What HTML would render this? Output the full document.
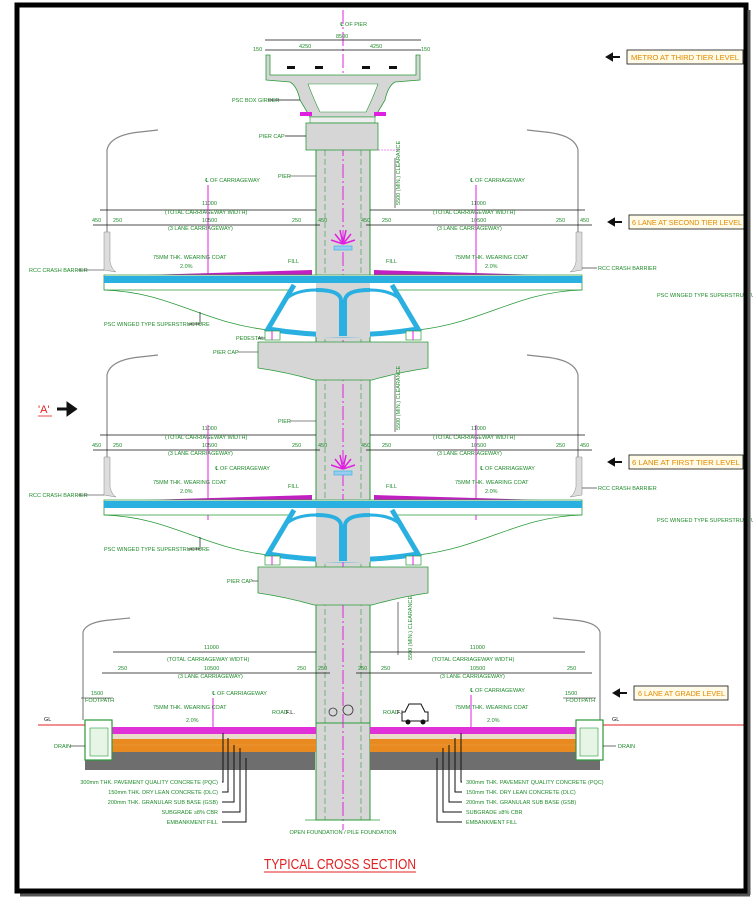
<!DOCTYPE html>
<html><head><meta charset="utf-8"><style>
html,body{margin:0;padding:0;background:#fff;width:753px;height:901px;overflow:hidden}
svg{display:block}
text{font-family:"Liberation Sans",sans-serif;font-size:5.5px;fill:#1f8a2a}
.k{fill:#111}
.o{fill:#e08a00;font-size:7.5px}
</style></head><body>
<svg width="753" height="901" viewBox="0 0 753 901" xmlns="http://www.w3.org/2000/svg">
<rect x="0" y="0" width="753" height="901" fill="#fff"/>
<!-- column -->
<rect x="316" y="148" width="54" height="672" fill="#d6d6d6" stroke="#2a9a3a" stroke-width="1"/>
<line x1="325" y1="150" x2="325" y2="820" stroke="#2a9a3a" stroke-width="0.6" stroke-dasharray="6,3"/>
<line x1="361" y1="150" x2="361" y2="820" stroke="#2a9a3a" stroke-width="0.6" stroke-dasharray="6,3"/>
<!-- centreline -->
<line x1="343" y1="10" x2="343" y2="830" stroke="#e020e0" stroke-width="1" stroke-dasharray="14,3,2,3"/>

<!-- METRO -->
<path d="M266,55 L270,55 L270,75 L416,75 L416,55 L420,55 L420,80 L395,82 Q388,86 385,100 L375,117 L310,117 L300,100 Q297,86 290,82 L266,80 Z" fill="#d6d6d6" stroke="#2a9a3a" stroke-width="0.8"/>
<path d="M308,84 L378,84 Q372,100 366,112 L320,112 Q314,100 308,84 Z" fill="#fff" stroke="#2a9a3a" stroke-width="0.6"/>
<rect x="300" y="112" width="12" height="4" fill="#e020e0"/><rect x="374" y="112" width="12" height="4" fill="#e020e0"/>
<rect x="310" y="117" width="65" height="6" fill="#eee" stroke="#2a9a3a" stroke-width="0.6"/>
<rect x="306" y="123" width="72" height="27" fill="#d6d6d6" stroke="#2a9a3a" stroke-width="0.8"/>
<g fill="#111"><rect x="287" y="66" width="8" height="3"/><rect x="315" y="66" width="8" height="3"/><rect x="362" y="66" width="8" height="3"/><rect x="389" y="66" width="8" height="3"/></g>
<line x1="265" y1="40" x2="421" y2="40" stroke="#111" stroke-width="0.8"/>
<line x1="265" y1="50" x2="421" y2="50" stroke="#111" stroke-width="0.8"/>
<text x="336" y="38">8500</text><text x="299" y="48">4250</text><text x="370" y="48">4250</text>
<text x="253" y="51">150</text><text x="421" y="51">150</text>
<text x="340" y="26">℄ OF PIER</text>
<text x="232" y="102">PSC BOX GIRDER</text><line x1="268" y1="100" x2="300" y2="100" stroke="#111" stroke-width="0.7"/>
<text x="259" y="138">PIER CAP</text><line x1="285" y1="136" x2="306" y2="136" stroke="#111" stroke-width="0.7"/>
<line x1="378" y1="150" x2="400" y2="150" stroke="#e020e0" stroke-width="0.6" stroke-dasharray="2,1"/>

<!-- TIER (second) -->
<g id="t2">
<path d="M107,268 V150 Q110,135 140,132 L158,130" fill="none" stroke="#888" stroke-width="1.2"/>
<path d="M578,268 V150 Q575,135 545,132 L527,130" fill="none" stroke="#888" stroke-width="1.2"/>
<line x1="100" y1="210" x2="316" y2="210" stroke="#111" stroke-width="0.8"/>
<line x1="93" y1="225" x2="320" y2="225" stroke="#111" stroke-width="0.8"/>
<line x1="370" y1="210" x2="585" y2="210" stroke="#111" stroke-width="0.8"/>
<line x1="366" y1="225" x2="592" y2="225" stroke="#111" stroke-width="0.8"/>
<text x="202" y="205">11000</text><text x="165" y="214">(TOTAL CARRIAGEWAY WIDTH)</text>
<text x="202" y="222">10500</text><text x="168" y="230">(3 LANE CARRIAGEWAY)</text>
<text x="471" y="205">11000</text><text x="433" y="214">(TOTAL CARRIAGEWAY WIDTH)</text>
<text x="471" y="222">10500</text><text x="437" y="230">(3 LANE CARRIAGEWAY)</text>
<text x="92" y="222">450</text><text x="113" y="222">250</text><text x="292" y="222">250</text><text x="318" y="222">450</text>
<text x="361" y="222">450</text><text x="382" y="222">250</text><text x="556" y="222">250</text><text x="580" y="222">450</text>
<text x="205" y="182">℄ OF CARRIAGEWAY</text><text x="470" y="182">℄ OF CARRIAGEWAY</text>
<line x1="208" y1="185" x2="208" y2="290" stroke="#e020e0" stroke-width="1"/>
<line x1="476" y1="185" x2="476" y2="290" stroke="#e020e0" stroke-width="1"/>
<text x="278" y="178">PIER</text><line x1="290" y1="176" x2="316" y2="176" stroke="#111" stroke-width="0.6"/>
<text x="153" y="259">75MM THK. WEARING COAT</text><text x="180" y="268">2.0%</text>
<text x="455" y="259">75MM THK. WEARING COAT</text><text x="485" y="268">2.0%</text>
<text x="288" y="263">FILL</text><text x="386" y="263">FILL</text>
<path d="M104,270 V232 H110 V262 Q112,270 116,272 Z" fill="#ddd" stroke="#888" stroke-width="0.5"/>
<path d="M582,270 V232 H576 V262 Q574,270 570,272 Z" fill="#ddd" stroke="#888" stroke-width="0.5"/>
<polygon points="110,276 312,270 312,276" fill="#c020c0"/>
<polygon points="374,270 576,276 374,276" fill="#c020c0"/>
<path d="M104,275 H582 V290 H104 Z" fill="#fff" stroke="#2a9a3a" stroke-width="0.8"/>
<rect x="104" y="276" width="478" height="7" fill="#2ab0e0"/>
<path d="M104,290 C170,292 200,322 268,330" fill="none" stroke="#2a9a3a" stroke-width="0.8"/>
<path d="M582,290 C516,292 486,322 418,330" fill="none" stroke="#2a9a3a" stroke-width="0.8"/>
<path d="M294,283 L268,330 Q343,342 418,330 L392,283 Z" fill="#fff"/>
<path d="M294,285 L268,329 Q343,341 418,329 L392,285" fill="none" stroke="#2ab0e0" stroke-width="5"/>
<rect x="316" y="283" width="54" height="54" fill="#d6d6d6"/>
<path d="M316,290 Q340,290 341,300 V336 M370,290 Q346,290 345,300 V336" fill="none" stroke="#2ab0e0" stroke-width="4"/>
<path d="M316,290 Q295,290 285,300 M370,290 Q391,290 401,300" fill="none" stroke="#2ab0e0" stroke-width="3"/>
<path d="M343,244 l-8,-10 M343,244 l8,-10 M343,244 l-12,-4 M343,244 l12,-4 M343,244 l-3,-14 M343,244 l3,-14" stroke="#e020e0" stroke-width="1.5"/>
<rect x="334" y="246" width="18" height="4" fill="#9ce" stroke="#2ab0e0" stroke-width="0.6"/>
<rect x="265" y="331" width="15" height="9" fill="#fff" stroke="#2a9a3a" stroke-width="0.7"/>
<rect x="406" y="331" width="15" height="9" fill="#fff" stroke="#2a9a3a" stroke-width="0.7"/>
<line x1="272" y1="331" x2="272" y2="340" stroke="#e020e0"/><line x1="413" y1="331" x2="413" y2="340" stroke="#e020e0"/>
<path d="M258,342 H428 V368 Q400,372 372,380 H314 Q286,372 258,368 Z" fill="#d6d6d6" stroke="#2a9a3a" stroke-width="0.8"/>
<text x="29" y="272">RCC CRASH BARRIER</text><line x1="78" y1="270" x2="104" y2="270" stroke="#111" stroke-width="0.6"/>
<text x="598" y="270">RCC CRASH BARRIER</text><line x1="582" y1="268" x2="597" y2="268" stroke="#111" stroke-width="0.6"/>
<text x="104" y="326">PSC WINGED TYPE SUPERSTRUCTURE</text><path d="M188,324 H200 V312" fill="none" stroke="#111" stroke-width="0.7"/>
<text x="657" y="297">PSC WINGED TYPE SUPERSTRUCTURE</text>
<text x="236" y="340">PEDESTAL</text><line x1="258" y1="338" x2="265" y2="338" stroke="#111" stroke-width="0.6"/>
<text x="213" y="354">PIER CAP</text><line x1="238" y1="352" x2="258" y2="352" stroke="#111" stroke-width="0.6"/>
</g>
<text x="400" y="205" transform="rotate(-90 400 205)">5500 (MIN.) CLEARANCE</text>
<line x1="395" y1="158" x2="395" y2="208" stroke="#111" stroke-width="0.6"/>

<!-- first tier = copy shifted -->
<g transform="translate(0,225)">
<path d="M107,268 V150 Q110,135 140,132 L158,130" fill="none" stroke="#888" stroke-width="1.2"/>
<path d="M578,268 V150 Q575,135 545,132 L527,130" fill="none" stroke="#888" stroke-width="1.2"/>
<line x1="100" y1="210" x2="316" y2="210" stroke="#111" stroke-width="0.8"/>
<line x1="93" y1="225" x2="320" y2="225" stroke="#111" stroke-width="0.8"/>
<line x1="370" y1="210" x2="585" y2="210" stroke="#111" stroke-width="0.8"/>
<line x1="366" y1="225" x2="592" y2="225" stroke="#111" stroke-width="0.8"/>
<text x="202" y="205">11000</text><text x="165" y="214">(TOTAL CARRIAGEWAY WIDTH)</text>
<text x="202" y="222">10500</text><text x="168" y="230">(3 LANE CARRIAGEWAY)</text>
<text x="471" y="205">11000</text><text x="433" y="214">(TOTAL CARRIAGEWAY WIDTH)</text>
<text x="471" y="222">10500</text><text x="437" y="230">(3 LANE CARRIAGEWAY)</text>
<text x="92" y="222">450</text><text x="113" y="222">250</text><text x="292" y="222">250</text><text x="318" y="222">450</text>
<text x="361" y="222">450</text><text x="382" y="222">250</text><text x="556" y="222">250</text><text x="580" y="222">450</text>
<text x="215" y="245">℄ OF CARRIAGEWAY</text><text x="480" y="245">℄ OF CARRIAGEWAY</text>
<line x1="208" y1="200" x2="208" y2="295" stroke="#e020e0" stroke-width="1"/>
<line x1="476" y1="200" x2="476" y2="295" stroke="#e020e0" stroke-width="1"/>
<text x="278" y="198">PIER</text><line x1="290" y1="196" x2="316" y2="196" stroke="#111" stroke-width="0.6"/>
<text x="153" y="259">75MM THK. WEARING COAT</text><text x="180" y="268">2.0%</text>
<text x="455" y="259">75MM THK. WEARING COAT</text><text x="485" y="268">2.0%</text>
<text x="288" y="263">FILL</text><text x="386" y="263">FILL</text>
<path d="M104,270 V232 H110 V262 Q112,270 116,272 Z" fill="#ddd" stroke="#888" stroke-width="0.5"/>
<path d="M582,270 V232 H576 V262 Q574,270 570,272 Z" fill="#ddd" stroke="#888" stroke-width="0.5"/>
<polygon points="110,276 312,270 312,276" fill="#c020c0"/>
<polygon points="374,270 576,276 374,276" fill="#c020c0"/>
<path d="M104,275 H582 V290 H104 Z" fill="#fff" stroke="#2a9a3a" stroke-width="0.8"/>
<rect x="104" y="276" width="478" height="7" fill="#2ab0e0"/>
<path d="M104,290 C170,292 200,322 268,330" fill="none" stroke="#2a9a3a" stroke-width="0.8"/>
<path d="M582,290 C516,292 486,322 418,330" fill="none" stroke="#2a9a3a" stroke-width="0.8"/>
<path d="M294,283 L268,330 Q343,342 418,330 L392,283 Z" fill="#fff"/>
<path d="M294,285 L268,329 Q343,341 418,329 L392,285" fill="none" stroke="#2ab0e0" stroke-width="5"/>
<rect x="316" y="283" width="54" height="54" fill="#d6d6d6"/>
<path d="M316,290 Q340,290 341,300 V336 M370,290 Q346,290 345,300 V336" fill="none" stroke="#2ab0e0" stroke-width="4"/>
<path d="M316,290 Q295,290 285,300 M370,290 Q391,290 401,300" fill="none" stroke="#2ab0e0" stroke-width="3"/>
<path d="M343,244 l-8,-10 M343,244 l8,-10 M343,244 l-12,-4 M343,244 l12,-4 M343,244 l-3,-14 M343,244 l3,-14" stroke="#e020e0" stroke-width="1.5"/>
<rect x="334" y="246" width="18" height="4" fill="#9ce" stroke="#2ab0e0" stroke-width="0.6"/>
<rect x="265" y="331" width="15" height="9" fill="#fff" stroke="#2a9a3a" stroke-width="0.7"/>
<rect x="406" y="331" width="15" height="9" fill="#fff" stroke="#2a9a3a" stroke-width="0.7"/>
<line x1="272" y1="331" x2="272" y2="340" stroke="#e020e0"/><line x1="413" y1="331" x2="413" y2="340" stroke="#e020e0"/>
<path d="M258,342 H428 V368 Q400,372 372,380 H314 Q286,372 258,368 Z" fill="#d6d6d6" stroke="#2a9a3a" stroke-width="0.8"/>
<text x="29" y="272">RCC CRASH BARRIER</text><line x1="78" y1="270" x2="104" y2="270" stroke="#111" stroke-width="0.6"/>
<text x="598" y="265">RCC CRASH BARRIER</text><line x1="582" y1="263" x2="597" y2="263" stroke="#111" stroke-width="0.6"/>
<text x="104" y="326">PSC WINGED TYPE SUPERSTRUCTURE</text><path d="M188,324 H200 V312" fill="none" stroke="#111" stroke-width="0.7"/>
<text x="657" y="297">PSC WINGED TYPE SUPERSTRUCTURE</text>
<text x="227" y="358">PIER CAP</text><line x1="252" y1="356" x2="258" y2="356" stroke="#111" stroke-width="0.6"/>
</g>
<text x="400" y="430" transform="rotate(-90 400 430)">5500 (MIN.) CLEARANCE</text>
<line x1="395" y1="375" x2="395" y2="432" stroke="#111" stroke-width="0.6"/>
<text x="412" y="660" transform="rotate(-90 412 660)">5500 (MIN.) CLEARANCE</text>
<line x1="398" y1="602" x2="398" y2="655" stroke="#111" stroke-width="0.6"/>

<!-- GRADE LEVEL -->
<path d="M83,720 V632 Q86,622 110,620 L130,618" fill="none" stroke="#888" stroke-width="1.2"/>
<path d="M600,720 V632 Q597,622 573,620 L553,618" fill="none" stroke="#888" stroke-width="1.2"/>
<line x1="113" y1="652" x2="316" y2="652" stroke="#111" stroke-width="0.8"/>
<line x1="102" y1="673" x2="330" y2="673" stroke="#111" stroke-width="0.8"/>
<line x1="370" y1="652" x2="585" y2="652" stroke="#111" stroke-width="0.8"/>
<line x1="356" y1="673" x2="592" y2="673" stroke="#111" stroke-width="0.8"/>
<text x="204" y="649">11000</text><text x="167" y="661">(TOTAL CARRIAGEWAY WIDTH)</text>
<text x="204" y="670">10500</text><text x="178" y="678">(3 LANE CARRIAGEWAY)</text>
<text x="470" y="649">11000</text><text x="432" y="661">(TOTAL CARRIAGEWAY WIDTH)</text>
<text x="470" y="670">10500</text><text x="440" y="678">(3 LANE CARRIAGEWAY)</text>
<text x="118" y="670">250</text><text x="297" y="670">250</text><text x="318" y="670">250</text>
<text x="358" y="670">250</text><text x="381" y="670">250</text><text x="567" y="670">250</text>
<text x="91" y="695">1500</text><text x="85" y="702">FOOTPATH</text>
<line x1="81" y1="698" x2="113" y2="698" stroke="#111" stroke-width="0.6"/>
<text x="565" y="695">1500</text><text x="566" y="702">FOOTPATH</text>
<line x1="563" y1="698" x2="596" y2="698" stroke="#111" stroke-width="0.6"/>
<text x="212" y="695">℄ OF CARRIAGEWAY</text><text x="470" y="692">℄ OF CARRIAGEWAY</text>
<line x1="213" y1="698" x2="213" y2="745" stroke="#e020e0"/><line x1="471" y1="695" x2="471" y2="745" stroke="#e020e0"/>
<text x="153" y="709">75MM THK. WEARING COAT</text><text x="186" y="722">2.0%</text>
<text x="455" y="709">75MM THK. WEARING COAT</text><text x="487" y="722">2.0%</text>
<text x="272" y="714">ROAD</text><text x="286" y="714" class="k">F.L.</text>
<text x="383" y="714">ROAD</text><text x="397" y="714" class="k">F.L.</text>
<!-- layers -->
<rect x="85" y="752" width="230" height="18" fill="#6e6e6e"/>
<rect x="370" y="752" width="230" height="18" fill="#6e6e6e"/>
<rect x="112" y="739" width="204" height="13" fill="#e88a20"/>
<rect x="370" y="739" width="206" height="13" fill="#e88a20"/>
<g stroke="#fff3" stroke-width="0.5"><line x1="112" y1="745" x2="316" y2="745"/><line x1="370" y1="745" x2="576" y2="745"/></g>
<rect x="112" y="734" width="204" height="5" fill="#e8dcc8"/>
<rect x="370" y="734" width="206" height="5" fill="#e8dcc8"/>
<rect x="112" y="727" width="204" height="7" fill="#e030d8"/>
<rect x="370" y="727" width="206" height="7" fill="#e030d8"/>
<rect x="85" y="720" width="27" height="40" fill="#fff" stroke="#2a9a3a" stroke-width="1.2"/>
<rect x="90" y="728" width="18" height="28" fill="#e6f5e6" stroke="#2a9a3a" stroke-width="0.6"/>
<rect x="576" y="720" width="27" height="40" fill="#fff" stroke="#2a9a3a" stroke-width="1.2"/>
<rect x="580" y="728" width="18" height="28" fill="#e6f5e6" stroke="#2a9a3a" stroke-width="0.6"/>
<line x1="38" y1="725" x2="85" y2="725" stroke="#e02020" stroke-width="1"/>
<line x1="603" y1="725" x2="745" y2="725" stroke="#e02020" stroke-width="1"/>
<text x="44" y="721" class="k">GL</text><text x="612" y="721" class="k">GL</text>
<text x="54" y="748">DRAIN</text><line x1="70" y1="746" x2="85" y2="746" stroke="#111" stroke-width="0.6"/>
<text x="618" y="748">DRAIN</text><line x1="603" y1="746" x2="616" y2="746" stroke="#111" stroke-width="0.6"/>
<line x1="316" y1="723" x2="370" y2="723" stroke="#2a9a3a" stroke-width="1"/>
<!-- plants & car -->
<circle cx="333" cy="712" r="4" fill="none" stroke="#333" stroke-width="0.8"/>
<circle cx="348" cy="710" r="5" fill="none" stroke="#333" stroke-width="0.8"/>
<path d="M405,712 L409,704 H421 L425,712 H428 V721 H402 V712 Z" fill="#fff" stroke="#111" stroke-width="1"/>
<circle cx="408" cy="722" r="2.5" fill="#111"/><circle cx="423" cy="722" r="2.5" fill="#111"/>
<!-- leaders -->
<g fill="none" stroke="#111" stroke-width="1">
<path d="M222,782 H223 V733"/><path d="M222,792 H228 V738"/><path d="M222,802 H234 V745"/><path d="M222,812 H240 V748"/><path d="M222,822 H246 V758"/>
<path d="M462,782 H461 V733"/><path d="M462,792 H455 V738"/><path d="M462,802 H449 V745"/><path d="M462,812 H443 V748"/><path d="M462,822 H437 V758"/>
</g>
<g text-anchor="end">
<text x="218" y="784">300mm THK. PAVEMENT QUALITY CONCRETE (PQC)</text>
<text x="218" y="794">150mm THK. DRY LEAN CONCRETE (DLC)</text>
<text x="218" y="804">200mm THK. GRANULAR SUB BASE (GSB)</text>
<text x="218" y="814">SUBGRADE ≥8% CBR</text>
<text x="218" y="824">EMBANKMENT FILL</text>
</g>
<text x="466" y="784">300mm THK. PAVEMENT QUALITY CONCRETE (PQC)</text>
<text x="466" y="794">150mm THK. DRY LEAN CONCRETE (DLC)</text>
<text x="466" y="804">200mm THK. GRANULAR SUB BASE (GSB)</text>
<text x="466" y="814">SUBGRADE ≥8% CBR</text>
<text x="466" y="824">EMBANKMENT FILL</text>
<line x1="305" y1="820" x2="380" y2="820" stroke="#2a9a3a" stroke-width="0.8"/>
<text x="343" y="834" text-anchor="middle">OPEN FOUNDATION / PILE FOUNDATION</text>

<!-- right level tags -->
<g>
<path d="M607,57 H620 M607,57 l5,-3 v6 z" stroke="#111" stroke-width="2" fill="#111"/>
<rect x="627" y="50" width="116" height="14" fill="#fffbe8" stroke="#111" stroke-width="0.8"/>
<text x="631" y="60" class="o" textLength="108" lengthAdjust="spacingAndGlyphs">METRO AT THIRD TIER LEVEL</text>
<path d="M609,222 H622 M609,222 l5,-3 v6 z" stroke="#111" stroke-width="2" fill="#111"/>
<rect x="629" y="215" width="116" height="14" fill="#fffbe8" stroke="#111" stroke-width="0.8"/>
<text x="632" y="225" class="o" textLength="110" lengthAdjust="spacingAndGlyphs">6 LANE AT SECOND TIER LEVEL</text>
<path d="M609,462 H622 M609,462 l5,-3 v6 z" stroke="#111" stroke-width="2" fill="#111"/>
<rect x="629" y="455" width="114" height="14" fill="#fffbe8" stroke="#111" stroke-width="0.8"/>
<text x="632" y="465" class="o" textLength="108" lengthAdjust="spacingAndGlyphs">6 LANE AT FIRST TIER LEVEL</text>
<path d="M614,693 H627 M614,693 l5,-3 v6 z" stroke="#111" stroke-width="2" fill="#111"/>
<rect x="634" y="686" width="94" height="14" fill="#fffbe8" stroke="#111" stroke-width="0.8"/>
<text x="638" y="696" class="o" textLength="87" lengthAdjust="spacingAndGlyphs">6 LANE AT GRADE LEVEL</text>
</g>
<text x="38" y="413" style="fill:#e02020;font-size:11px">'A'</text>
<line x1="38" y1="416" x2="52" y2="416" stroke="#e02020" stroke-width="0.8"/>
<path d="M57,409 H69 M75,409 l-7,-5 v10 z" stroke="#111" stroke-width="3" fill="#111"/>

<text x="264" y="869" style="fill:#e02020;font-size:15px" textLength="152" lengthAdjust="spacingAndGlyphs">TYPICAL CROSS SECTION</text>
<line x1="264" y1="872" x2="416" y2="872" stroke="#e02020" stroke-width="1"/>
<rect x="17" y="5" width="729" height="886" fill="none" stroke="#000" stroke-width="5"/>
<line x1="20" y1="895" x2="750" y2="895" stroke="#555" stroke-width="3"/>
<line x1="749" y1="10" x2="749" y2="895" stroke="#555" stroke-width="3"/>
</svg>
</body></html>
